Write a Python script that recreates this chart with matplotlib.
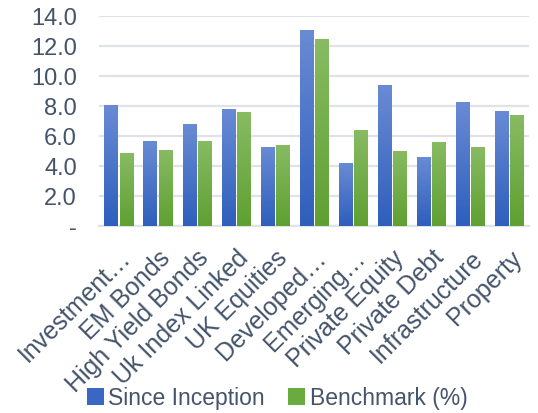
import numpy as np
import matplotlib.pyplot as plt
from matplotlib.colors import LinearSegmentedColormap
from matplotlib.patches import Patch

# asset classes and returns
categories = ['Investment…', 'EM Bonds', 'High Yield Bonds', 'Uk Index Linked',
              'UK Equities', 'Developed…', 'Emerging…', 'Private Equity',
              'Private Debt', 'Infrastructure', 'Property']
since_inception = [8.1, 5.7, 6.8, 7.8, 5.3, 13.1, 4.2, 9.4, 4.6, 8.3, 7.7]
benchmark = [4.9, 5.1, 5.7, 7.6, 5.4, 12.5, 6.4, 5.0, 5.6, 5.3, 7.4]
series_names = ['Since Inception', 'Benchmark (%)']
yticks = [0, 2, 4, 6, 8, 10, 12, 14]

text_col = '#44546a'
grid_col = '#dfe2e6'
blue_map = LinearSegmentedColormap.from_list('b', ['#2e5fbc', '#6a8bd4'])
green_map = LinearSegmentedColormap.from_list('g', ['#5fa032', '#88bb63'])

plt.rcParams['font.family'] = ['Liberation Sans', 'DejaVu Sans']

fig = plt.figure(figsize=(5.38, 4.13), dpi=100)
ax = fig.add_axes([0.184, 0.4516, 0.799, 0.5094])

x = np.arange(len(categories))
w = 0.335
off = 0.195
grad = np.linspace(0, 1, 100).reshape(-1, 1)

def gradient_bars(xpos, vals, cmap):
    bars = ax.bar(xpos, vals, width=w, color='none', edgecolor='none', zorder=3)
    for b in bars:
        x0, y0 = b.get_x(), b.get_y()
        im = ax.imshow(grad, extent=[x0, x0 + b.get_width(), y0, y0 + b.get_height()],
                       origin='lower', aspect='auto', cmap=cmap, zorder=3)
        im.set_clip_path(b)
    return bars

gradient_bars(x - off, since_inception, blue_map)
gradient_bars(x + off, benchmark, green_map)

ax.set_xlim(-0.5, len(categories) - 0.5)
ax.set_ylim(0, 14)
ax.set_yticks(yticks)
ax.set_yticklabels(['-' if v == 0 else f'{v:.1f}' for v in yticks])
ax.yaxis.grid(True, color=grid_col, linewidth=1.6, zorder=0)
ax.set_axisbelow(True)
for s in ['top', 'right', 'left']:
    ax.spines[s].set_visible(False)
ax.spines['bottom'].set_color(grid_col)
ax.spines['bottom'].set_linewidth(1.6)
ax.tick_params(axis='y', length=0, pad=16, labelsize=17, labelcolor=text_col)
ax.tick_params(axis='x', length=0, pad=14, labelsize=18, labelcolor=text_col)
ax.set_xticks(x)
ax.set_xticklabels(categories, rotation=45, ha='right', va='top',
                   rotation_mode='anchor')

handles = [Patch(facecolor='#3a67c4'), Patch(facecolor='#6aab3f')]
fig.legend(handles, series_names, loc='center', bbox_to_anchor=(0.515, 0.036),
           ncol=2, frameon=False, fontsize=16.5, labelcolor=text_col,
           handlelength=0.75, handleheight=0.75, handletextpad=0.2,
           columnspacing=1.0)

fig.savefig('out.png', dpi=100)
